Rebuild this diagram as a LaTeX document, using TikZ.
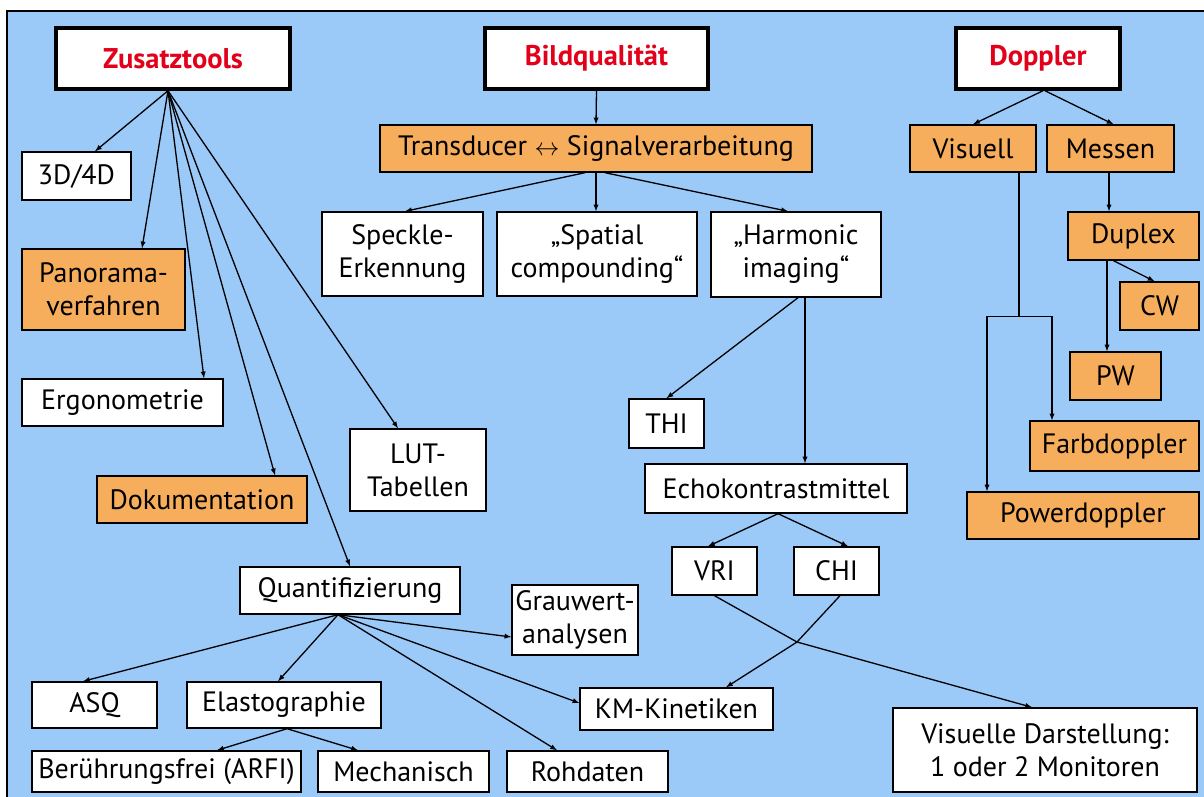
\documentclass[tikz,border=0pt]{standalone}
\usepackage{fontspec}
\setmainfont{PT Sans}
\usetikzlibrary{arrows}

\definecolor{bgblue}{RGB}{155,201,248}
\definecolor{boxorange}{RGB}{247,174,92}
\definecolor{titlered}{RGB}{226,0,26}

\begin{document}
\begin{tikzpicture}[x=1pt, y=-1pt]
        \tikzstyle{box}     = [shape=rectangle, draw, line width=1.4pt, fill=white, align=center, inner sep=0pt, font=\fontsize{28}{33}\selectfont]
        \tikzstyle{obox}    = [box, fill=boxorange]
        \tikzstyle{headbox} = [box, line width=3.5pt, font=\fontsize{28.5}{33}\selectfont\bfseries, text=titlered]
        \tikzstyle{arr}     = [-latex, line width=1.3pt]

        \useasboundingbox (0,0) rectangle (1204,797);
        \fill[bgblue] (7,11) rectangle (1204,797);
        \draw[line width=2pt] (1204,11) -- (7,11) -- (7,797);

        % headings
        \node[headbox, minimum width=234pt, minimum height=61pt] (zt)  at (173,58.5)  {Zusatztools};
        \node[headbox, minimum width=223pt, minimum height=61pt] (bq)  at (596.5,58.5) {Bildqualität};
        \node[headbox, minimum width=164pt, minimum height=61pt] (dop) at (1038,58.5) {Doppler};

        % Zusatztools
        \node[box,  minimum width=109pt, minimum height=48pt] (d3)    at (76.5,176)   {3D/4D};
        \node[obox, minimum width=163pt, minimum height=81pt] (pano)  at (103.5,289.5) {Panorama-\\verfahren};
        \node[box,  minimum width=201pt, minimum height=47pt] (ergo)  at (122.5,402.5) {Ergonometrie};
        \node[obox, minimum width=210pt, minimum height=47pt] (doku)  at (202,499.5)  {Dokumentation};
        \node[box,  minimum width=136pt, minimum height=82pt] (lut)   at (418,470)    {LUT-\\Tabellen};
        \node[box,  minimum width=220pt, minimum height=47pt] (qf)    at (350,590.5)  {Quantifizierung};

            \node[box, minimum width=125pt, minimum height=46pt] (asq)   at (94.5,705)   {ASQ};
            \node[box, minimum width=194pt, minimum height=46pt] (elast) at (284,705)    {Elastographie};
            \node[box, minimum width=269pt, minimum height=41pt] (arfi)  at (166.5,771.5) {Berührungsfrei (ARFI)};
            \node[box, minimum width=171pt, minimum height=41pt] (mech)  at (403.5,771.5) {Mechanisch};
            \node[box, minimum width=161pt, minimum height=41pt] (roh)   at (587.5,771.5) {Rohdaten};
            \node[box, minimum width=193pt, minimum height=42pt] (km)    at (676.5,709)  {KM-Kinetiken};
            \node[box, minimum width=126pt, minimum height=70pt] (grau)  at (575,620)    {Grauwert-\\analysen};

        % Bildqualitaet
        \node[obox, minimum width=432pt, minimum height=47pt] (trans) at (596,148.5) {Transducer $\leftrightarrow$ Signalverarbeitung};
        \node[box,  minimum width=161pt, minimum height=84pt] (speck) at (402.5,254) {Speckle-\\Erkennung};
        \node[box,  minimum width=200pt, minimum height=84pt] (spat)  at (597,254)   {„Spatial\\compounding“};
        \node[box,  minimum width=170pt, minimum height=85pt] (harm)  at (796,254.5) {„Harmonic\\imaging“};
        \node[box,  minimum width=75pt,  minimum height=49pt] (thi)   at (666.5,423.5) {THI};
        \node[box,  minimum width=262pt, minimum height=49pt] (echo)  at (776,488.5) {Echokontrastmittel};
        \node[box,  minimum width=85pt,  minimum height=48pt] (vri)   at (714.5,571) {VRI};
        \node[box,  minimum width=85pt,  minimum height=48pt] (chi)   at (836.5,571) {CHI};
        \node[box,  minimum width=304pt, minimum height=84pt] (vis2)  at (1045,750)  {Visuelle Darstellung:\\1 oder 2 Monitoren};

        % Doppler
        \node[obox, minimum width=126pt, minimum height=47pt] (visu)  at (973,148.5)    {Visuell};
        \node[obox, minimum width=127pt, minimum height=47pt] (mess)  at (1110.5,148.5) {Messen};
        \node[obox, minimum width=131pt, minimum height=48pt] (dup)   at (1133.5,236)   {Duplex};
        \node[obox, minimum width=79pt,  minimum height=48pt] (cw)    at (1159.5,306)   {CW};
        \node[obox, minimum width=91pt,  minimum height=48pt] (pw)    at (1115.5,376)   {PW};
        \node[obox, minimum width=169pt, minimum height=50pt] (farb)  at (1114.5,446)   {Farbdoppler};
        \node[obox, minimum width=232pt, minimum height=47pt] (power) at (1083,515.5)   {Powerdoppler};

        % Zusatztools arrows
        \coordinate (ztf) at ([xshift=-5pt]zt.south);
        \draw[arr] (ztf) -- ([xshift=18.5pt]d3.north);
        \draw[arr] (ztf) -- ([xshift=38.5pt]pano.north);
        \draw[arr] (ztf) -- ([xshift=81.5pt]ergo.north);
        \draw[arr] (ztf) -- ([xshift=73pt]doku.north);
        \draw[arr] (ztf) -- ([xshift=-20pt]lut.north);
        \draw[arr] (ztf) -- (qf.north);

        \coordinate (qff) at ([xshift=-12pt]qf.south);
        \draw[arr] (qff) -- ([xshift=-11.5pt]asq.north);
        \draw[arr] (qff) -- ([xshift=-6pt]elast.north);
        \draw[arr] (qff) -- ([yshift=-17pt]grau.west);
        \draw[arr] (qff) -- ([yshift=6pt]km.west);
        \draw[arr] (qff) -- ([xshift=-30.5pt]roh.north);

        \draw[arr] ([xshift=3pt]elast.south) -- ([xshift=50.5pt]arfi.north);
        \draw[arr] ([xshift=3pt]elast.south) -- ([xshift=-45.5pt]mech.north);

        % Bildqualitaet arrows
        \draw[arr] (bq.south) -- (trans.north);
        \draw[arr] ([xshift=-11pt]trans.south) -- ([xshift=2.5pt]speck.north);
        \draw[arr] (trans.south) -- (trans.south |- spat.north);
        \draw[arr] ([xshift=9pt]trans.south) -- ([xshift=-8pt]harm.north);

        \draw[arr] ([xshift=2pt]harm.south) -- (thi.north);
        \draw[arr] ([xshift=9pt]harm.south) coordinate (hs) -- (hs |- echo.north);

        \draw[arr] ([xshift=2pt]echo.south) -- ([xshift=-6.5pt]vri.north);
        \draw[arr] ([xshift=2pt]echo.south) -- ([xshift=11.5pt]chi.north);

        \coordinate (kx) at (797,642);
        \draw[arr] (vri.south) -- (kx) -- ([xshift=-13pt]vis2.north);
        \draw[arr] ([xshift=3.5pt]chi.south) -- (kx) -- ([xshift=49.5pt]km.north);

        % Doppler arrows
        \draw[arr] ([xshift=5pt]dop.south) -- (visu.north);
        \draw[arr] ([xshift=7pt]dop.south) -- ([xshift=3pt]mess.north);
        \draw[arr] ([xshift=-1.5pt]mess.south) coordinate (ms) -- (ms |- dup.north);
        \draw[arr] ([xshift=-20pt]dup.south) -- ([xshift=-5pt]cw.north);
        \draw[arr] ([xshift=-26.5pt]dup.south) coordinate (ds) -- (ds |- pw.north);

        \draw[line width=1.3pt] ([xshift=46pt]visu.south) -- ++(0,144) coordinate (vb);
        \draw[arr] (vb) -| ([xshift=-62.5pt]farb.north);
        \draw[arr] (vb) -| ([xshift=-96pt]power.north);

\end{tikzpicture}
\end{document}
